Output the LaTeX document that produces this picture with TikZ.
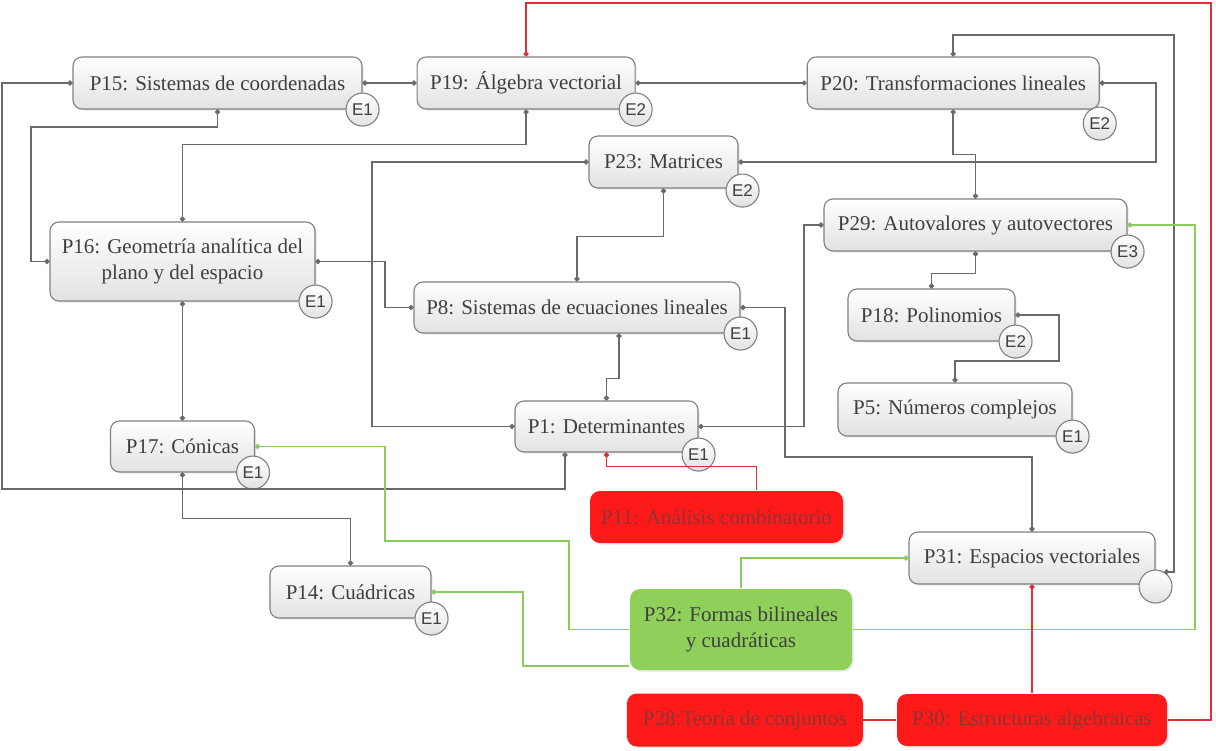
\documentclass[tikz,border=0pt]{standalone}
\usepackage{fontspec}
\setmainfont{Liberation Serif}
\setsansfont{Liberation Sans}
\usetikzlibrary{positioning,arrows.meta,shadows}
\definecolor{rule}{HTML}{808080}
\definecolor{wire}{HTML}{6A6A6A}
\definecolor{ink}{HTML}{3F3F3F}
\definecolor{fade}{HTML}{E2E2E2}
\definecolor{hot}{HTML}{FF1A1A}
\definecolor{hotink}{HTML}{8A3434}
\definecolor{hotwire}{HTML}{DC3038}
\definecolor{leaf}{HTML}{8FD05A}
\definecolor{leafwire}{HTML}{8CCB5E}

\begin{document}
\begin{tikzpicture}[x=1pt,y=-1pt,
  font=\fontsize{21}{26}\selectfont,
  box/.style={draw=rule,line width=1.1pt,rounded corners=9pt,top color=white,bottom color=fade,text=ink,
              align=center,minimum height=52pt,inner sep=2pt,
              drop shadow={opacity=.18,shadow xshift=1.5pt,shadow yshift=-1.5pt}},
  redbox/.style={box,draw=none,top color=hot,bottom color=hot,text=hotink,rounded corners=10pt},
  greenbox/.style={box,draw=none,top color=leaf,bottom color=leaf,rounded corners=10pt},
  badge/.style={circle,draw=rule,line width=1.1pt,top color=white,bottom color=fade,text=ink,
                minimum size=33pt,inner sep=0pt,font=\fontsize{17}{17}\sffamily},
  ln/.style={{Circle[length=5pt]}-{Circle[length=5pt]},draw=wire,line width=1.6pt},
  lr/.style={{Circle[length=5pt]}-,draw=hotwire,line width=1.6pt},
  lg/.style={{Circle[length=5pt]}-,draw=leafwire,line width=1.6pt},
  lx/.style={draw=hotwire,line width=1.6pt}]
\useasboundingbox (0,0) rectangle (1216,750);
% top row
\node[box,minimum width=289pt] (p15) at (217.5,83) {P15: Sistemas de coordenadas};
\node[box,minimum width=218pt,right=54pt of p15] (p19) {P19: Álgebra vectorial};
\node[box,minimum width=292pt,right=171pt of p19] (p20) {P20: Transformaciones lineales};
\node[box,minimum width=149pt] (p23) at (663.5,162) {P23: Matrices};
% left and middle
\node[box,minimum width=265pt,minimum height=79pt] (p16) at (182.5,261.5) {P16: Geometría analítica del\\plano y del espacio};
\node[box,minimum width=326pt,minimum height=51pt] (p8) at (577,307.5) {P8: Sistemas de ecuaciones lineales};
\node[box,minimum width=183pt,minimum height=51pt] (p1) at (606.5,426.5) {P1: Determinantes};
\node[box,minimum width=144pt,minimum height=51pt] (p17) at (182.5,446.5) {P17: Cónicas};
\node[box,minimum width=161pt] (p14) at (350.5,592) {P14: Cuádricas};
% right column
\node[box,minimum width=303pt] (p29) at (975.5,225) {P29: Autovalores y autovectores};
\node[box,minimum width=167pt] (p18) at (931.5,315) {P18: Polinomios};
\node[box,minimum width=234pt,minimum height=53pt] (p5) at (955,409.5) {P5: Números complejos};
\node[box,minimum width=246pt] (p31) at (1032,558) {P31: Espacios vectoriales};
% coloured ones
\node[redbox,minimum width=253pt] (p11) at (716.5,517) {P11: Análisis combinatorio};
\node[greenbox,minimum width=222pt,minimum height=81pt] (p32) at (741,629.5) {P32: Formas bilineales\\y cuadráticas};
\node[redbox,minimum width=270pt] (p30) at (1032,720) {P30: Estructuras algebraicas};
\node[redbox,minimum width=236pt,minimum height=53pt,left=33pt of p30] (p28) {P28:Teoría de conjuntos};
% badges
\node[badge] (b15) at (p15.south east) {E1};
\node[badge] (b19) at (p19.south east) {E2};
\node[badge] (b20) at ([yshift=-14pt]p20.south east) {E2};
\node[badge] (b23) at ([xshift=4pt,yshift=-2pt]p23.south east) {E2};
\node[badge] (b16) at (p16.south east) {E1};
\node[badge] (b8) at (p8.south east) {E1};
\node[badge] (b1) at ([yshift=-2pt]p1.south east) {E1};
\node[badge] (b17) at ([xshift=-2pt]p17.south east) {E1};
\node[badge] (b14) at (p14.south east) {E1};
\node[badge] (b29) at (p29.south east) {E3};
\node[badge] (b18) at (p18.south east) {E2};
\node[badge] (b5) at (p5.south east) {E1};
\node[badge] (b31) at ([yshift=-2pt]p31.south east) {};
% grey links
\draw[ln] (p15.west) -| (2,489) -| ([xshift=-41.5pt]p1.south);
\draw[ln] (p15.east) -- (p19.west);
\draw[ln] (p15.south) |- (31,127) |- (p16.west);
\draw[ln] (p19.south) -- ++(0,35) -| (p16.north);
\draw[ln] (p19.east) -- (p20.west);
\draw[ln] (p23.west) -| (372,426.5) -- (p1.west);
\draw[ln] (p23.east) -| (1156,83) -- (p20.east);
\draw[ln] (p20.south) -- ++(0,45) -| (p29.north);
\draw[ln] (p20.north) |- (1174,35) |- (b31.60);
\draw[ln] (p23.south) -- ++(0,48) -| (p8.north);
\draw[ln] (p16.east) -| (385,307.5) -- (p8.west);
\draw[ln] (p16.south) -- (p17.north);
\draw[ln] ([xshift=42pt]p8.south) -- ++(0,45) -| (p1.north);
\draw[ln] (p8.east) -| (785,457) -| (p31.north);
\draw[ln] (p1.east) -| (804,225) -- (p29.west);
\draw[ln] (p29.south) -- ++(0,22) -| (p18.north);
\draw[ln] (p18.east) -| (1059,361) -| (p5.north);
\draw[ln] (p17.south) -- ++(0,46) -| (p14.north);
% green links
\draw[lg] (p17.east) -| (385,541) -| (569,629.5) -- (p32.west);
\draw[lg] (p14.east) -| (523,666) -- ([yshift=-36.5pt]p32.west);
\draw[lg] (p31.west) -| (p32.north);
\draw[lg] (p29.east) -| (1195,629.5) -- (p32.east);
% red links
\draw[lr] (p1.south) -- ++(0,14) -| ([xshift=40pt]p11.north);
\draw[lr] (p31.south) -- (p30.north);
\draw[lx] (p28.east) -- (p30.west);
\draw[lr] (p19.north) |- (1211,3) |- (p30.east);
\end{tikzpicture}
\end{document}
